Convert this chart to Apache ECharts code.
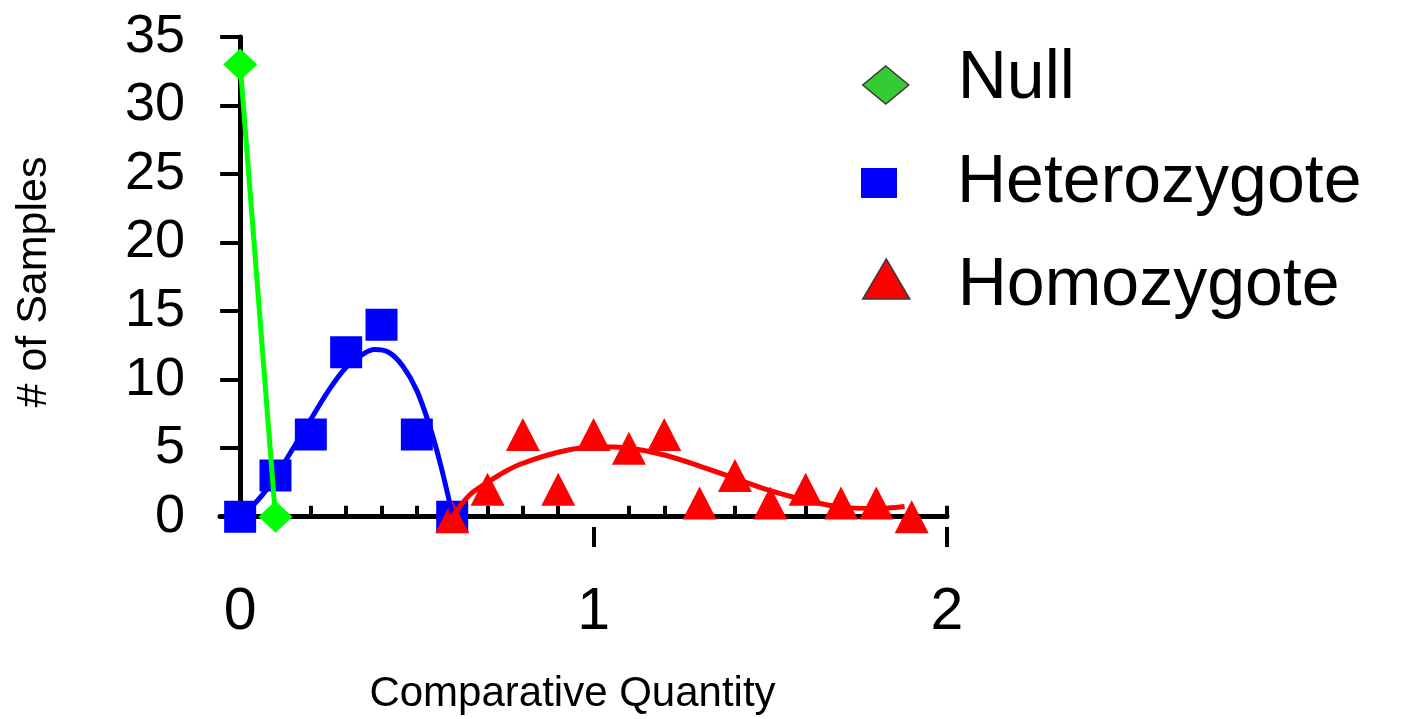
<!DOCTYPE html>
<html>
<head>
<meta charset="utf-8">
<script src="https://cdn.jsdelivr.net/npm/echarts@6/dist/echarts.min.js"></script>
<style>
  html, body { margin: 0; padding: 0; background: #fff; }
  #chart { width: 1410px; height: 719px; }
</style>
</head>
<body>
<div id="chart"></div>
<script>
// raw counts per comparative quantity bin
const nullPoints = [[0, 33], [0.1, 0]]
const hetPoints = [[0, 0], [0.1, 3], [0.2, 6], [0.3, 12], [0.4, 14], [0.5, 6], [0.6, 0]]
const homPoints = [[0.6, 0], [0.7, 2], [0.8, 6], [0.9, 2], [1.0, 6], [1.1, 5], [1.2, 6],
  [1.3, 1], [1.4, 3], [1.5, 1], [1.6, 2], [1.7, 1], [1.8, 1], [1.9, 0]]

// fitted curves
const hetFit = [[0, 0], [0.05, 1.2], [0.1, 2.9], [0.15, 5], [0.2, 7.1], [0.25, 9.2], [0.3, 10.9],
  [0.35, 11.9], [0.38, 12.2], [0.42, 12], [0.46, 11], [0.5, 9.2], [0.54, 6.3], [0.57, 3.5], [0.6, 0.2]]
const homFit = [[0.6, 0], [0.65, 1.6], [0.7, 2.5], [0.75, 3.3], [0.8, 3.9], [0.9, 4.7], [1.0, 5.1],
  [1.1, 5.0], [1.2, 4.5], [1.3, 3.7], [1.4, 2.8], [1.5, 1.9], [1.6, 1.2], [1.7, 0.7], [1.8, 0.6], [1.88, 0.75]]

// tick labels
const xLabels = [0, 1, 2]
const xMinorTicks = [0.1, 0.2, 0.3, 0.4, 0.5, 0.6, 0.7, 0.8, 0.9,
  1.1, 1.2, 1.3, 1.4, 1.5, 1.6, 1.7, 1.8, 1.9, 2]
const xMajorTicks = [1, 2]
const yTicks = [0, 5, 10, 15, 20, 25, 30, 35]

const font = 'Liberation Sans, Arial, sans-serif'
let myChart = echarts.init(document.getElementById('chart'))

// legend text with its own padding, so each label sits where the original has it
function legendText(pad) {
  return {
    rich: {
      t: { fontFamily: font, fontSize: 68, color: '#000', padding: pad }
    }
  }
}

let option = {
  backgroundColor: '#FFFFFF',
  animation: false,
  grid: {
    left: 220,
    top: 37,
    width: 727,
    height: 490,
    containLabel: false,
    outerBoundsMode: 'none'
  },
  legend: [
    {
      left: 857, top: 40,
      itemWidth: 46, itemHeight: 38,
      formatter: '{t|{name}}',
      data: [{ name: 'Null', icon: 'diamond', itemStyle: { color: '#33CC33', borderColor: '#3a3a3a', borderWidth: 1.5 } }],
      textStyle: legendText([0, 0, 12, 44])
    },
    {
      left: 856, top: 144,
      itemWidth: 36, itemHeight: 30,
      formatter: '{t|{name}}',
      data: [{ name: 'Heterozygote', icon: 'rect', itemStyle: { color: '#0000FF' } }],
      textStyle: legendText([0, 0, 0, 55])
    },
    {
      left: 857, top: 247,
      itemWidth: 47, itemHeight: 40,
      formatter: '{t|{name}}',
      data: [{ name: 'Homozygote', icon: 'triangle', itemStyle: { color: '#FF0000', borderColor: '#3a3a3a', borderWidth: 1.5 } }],
      textStyle: legendText([14, 0, 0, 43])
    }
  ],
  xAxis: [
    {
      type: 'value',
      min: -0.057,
      max: 2,
      splitLine: { show: false },
      axisLine: { onZero: true, lineStyle: { color: '#000', width: 5 } },
      axisTick: { inside: true, length: 11, customValues: xMinorTicks, lineStyle: { color: '#000', width: 4 } },
      axisLabel: { customValues: xLabels, margin: 56, fontFamily: font, fontSize: 59, color: '#000' }
    },
    {
      type: 'value',
      position: 'bottom',
      min: -0.057,
      max: 2,
      name: 'Comparative Quantity',
      nameLocation: 'middle',
      nameGap: 146,
      nameTextStyle: { fontFamily: font, fontSize: 42, color: '#000', padding: [0, 22, 0, 0] },
      splitLine: { show: false },
      axisLine: { show: false, onZero: true },
      axisTick: { show: true, length: 20, customValues: xMajorTicks, lineStyle: { color: '#000', width: 4 } },
      axisLabel: { show: false }
    }
  ],
  yAxis: {
    type: 'value',
    min: -0.75,
    max: 35,
    name: '# of Samples',
    nameLocation: 'middle',
    nameGap: 164,
    nameRotate: 90,
    nameTextStyle: { fontFamily: font, fontSize: 43, color: '#000' },
    splitLine: { show: false },
    axisLine: { onZero: true, lineStyle: { color: '#000', width: 5 } },
    axisTick: { length: 20, customValues: yTicks, lineStyle: { color: '#000', width: 4 } },
    axisLabel: { customValues: yTicks, margin: 35, fontFamily: font, fontSize: 54, color: '#000' }
  },
  series: [
    {
      name: 'Heterozygote',
      type: 'scatter',
      data: hetPoints,
      symbol: 'rect',
      symbolSize: 32,
      itemStyle: { color: '#0000FF', opacity: 1 }
    },
    {
      name: 'Heterozygote fit',
      type: 'line',
      data: hetFit,
      smooth: 0.3,
      showSymbol: false,
      lineStyle: { color: '#0000FF', width: 5 }
    },
    {
      name: 'Homozygote fit',
      type: 'line',
      data: homFit,
      smooth: 0.3,
      showSymbol: false,
      lineStyle: { color: '#FF0000', width: 5 }
    },
    {
      name: 'Homozygote',
      type: 'scatter',
      data: homPoints,
      symbol: 'triangle',
      symbolSize: [34, 33],
      itemStyle: { color: '#FF0000', opacity: 1 }
    },
    {
      name: 'Null fit',
      type: 'line',
      data: nullPoints,
      showSymbol: false,
      lineStyle: { color: '#00FF00', width: 5 }
    },
    {
      name: 'Null',
      type: 'scatter',
      data: nullPoints,
      symbol: 'diamond',
      symbolSize: [34, 32],
      itemStyle: { color: '#00FF00', opacity: 1 }
    }
  ]
}
myChart.setOption(option)
window.addEventListener('resize', function() {
  myChart.resize()
})
</script>
</body>
</html>
